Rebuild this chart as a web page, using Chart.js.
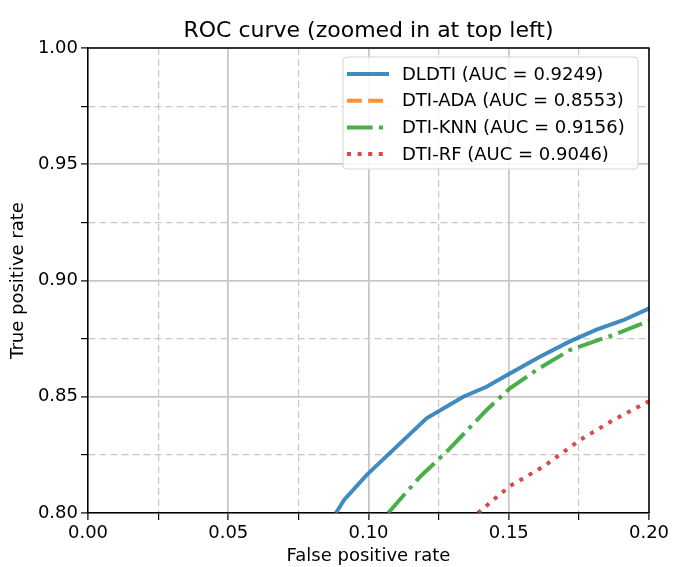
<!DOCTYPE html>
<html>
<head>
<meta charset="utf-8">
<script src="https://cdn.jsdelivr.net/npm/chart.js@4/dist/chart.umd.min.js"></script>
<style>
  html, body { margin: 0; padding: 0; background: #fff; }
  #roc { display: block; }
</style>
</head>
<body>
<canvas id="roc" width="673" height="567"></canvas>
<script>
// values
var titleText = 'ROC curve (zoomed in at top left)';
var xTitle = 'False positive rate';
var yTitle = 'True positive rate';

var xMin = 0.0, xMax = 0.2;
var yMin = 0.8, yMax = 1.0;
var tickStep = 0.025;   // minor step, labels only every 0.05

var labels = [
    'DLDTI (AUC = 0.9249)',
    'DTI-ADA (AUC = 0.8553)',
    'DTI-KNN (AUC = 0.9156)',
    'DTI-RF (AUC = 0.9046)'
];

var dldtiFpr = [0.0884, 0.0913, 0.0993, 0.1207, 0.1338, 0.1421, 0.1504, 0.1611, 0.1718, 0.1813, 0.1908, 0.1991, 0.2005];
var dldtiTpr = [0.8000, 0.8056, 0.8163, 0.8407, 0.8500, 0.8543, 0.8600, 0.8672, 0.8738, 0.8789, 0.8829, 0.8875, 0.8882];

// ADA curve stays below 0.80 in this window
var adaFpr = [0.100, 0.150, 0.200];
var adaTpr = [0.700, 0.740, 0.780];

var knnFpr = [0.1070, 0.1184, 0.1279, 0.1421, 0.1504, 0.1599, 0.1718, 0.1873, 0.1991, 0.2005];
var knnTpr = [0.8000, 0.8156, 0.8264, 0.8443, 0.8536, 0.8615, 0.8701, 0.8766, 0.8822, 0.8828];

var rfFpr = [0.1390, 0.1504, 0.1623, 0.1754, 0.1873, 0.1991, 0.2005];
var rfTpr = [0.8000, 0.8116, 0.8199, 0.8314, 0.8400, 0.8475, 0.8483];

function toPoints(xs, ys) {
    var pts = [];
    for (var i = 0; i < xs.length; i++) {
        pts.push({x: xs[i], y: ys[i]});
    }
    return pts;
}

var font = 'DejaVu Sans';
Chart.defaults.font.family = font;
Chart.defaults.color = '#000';

function isMajor(v) {
    return Math.abs(Math.round(v * 1000) % 50) === 0;
}

// matplotlib-like legend inside the plot, top right
var insideLegend = {
    id: 'insideLegend',
    afterDatasetsDraw: function (chart) {
        var ctx = chart.ctx;
        var area = chart.chartArea;
        var w = 295, h = 112;
        var left = area.right - 11 - w;
        var top = area.top + 9;

        ctx.save();
        ctx.beginPath();
        ctx.roundRect(left, top, w, h, 4);
        ctx.fillStyle = 'rgba(255,255,255,0.85)';
        ctx.fill();
        ctx.strokeStyle = '#d4d4d4';
        ctx.lineWidth = 1;
        ctx.stroke();

        ctx.font = '18px "' + font + '"';
        ctx.textBaseline = 'middle';
        ctx.textAlign = 'left';
        chart.data.datasets.forEach(function (ds, i) {
            var y = top + 17 + i * 26.7;
            ctx.beginPath();
            ctx.setLineDash(ds.borderDash || []);
            ctx.lineCap = 'butt';
            ctx.lineWidth = ds.borderWidth;
            ctx.strokeStyle = ds.borderColor;
            ctx.moveTo(left + 4, y);
            ctx.lineTo(left + 46, y);
            ctx.stroke();
            ctx.setLineDash([]);
            ctx.fillStyle = '#000';
            ctx.fillText(ds.label, left + 59, y + 1);
        });

        // top and right spines
        ctx.beginPath();
        ctx.strokeStyle = '#000';
        ctx.lineWidth = 1.5;
        ctx.moveTo(area.left, area.top);
        ctx.lineTo(area.right, area.top);
        ctx.lineTo(area.right, area.bottom);
        ctx.stroke();
        ctx.restore();
    }
};

function line(label, xs, ys, color, dash) {
    return {
        label: label,
        data: toPoints(xs, ys),
        showLine: true,
        borderColor: color,
        backgroundColor: color,
        borderWidth: 4,
        borderDash: dash,
        borderCapStyle: 'butt',
        pointRadius: 0,
        tension: 0,
        clip: 0
    };
}

function axis(min, max, titleText, titlePad, afterFit) {
    return {
        type: 'linear',
        min: min,
        max: max,
        afterFit: afterFit,
        ticks: {
            stepSize: tickStep,
            autoSkip: false,
            padding: 3,
            font: {size: 18},
            callback: function (value) {
                return isMajor(value) ? value.toFixed(2) : '';
            }
        },
        grid: {
            color: '#c8c8c8',
            lineWidth: function (c) {
                return isMajor(c.tick.value) ? 1.8 : 1.2;
            },
            tickColor: '#000',
            tickLength: 7,
            tickWidth: 1.2
        },
        border: {
            color: '#000',
            width: 1.5,
            dash: function (c) {
                return (c.tick && !isMajor(c.tick.value)) ? [7, 4] : [];
            }
        },
        title: {
            display: true,
            text: titleText,
            font: {size: 18},
            padding: titlePad
        }
    };
}

var chart = new Chart(document.getElementById('roc'), {
    type: 'scatter',
    data: {
        datasets: [
            line(labels[0], dldtiFpr, dldtiTpr, 'rgba(31,119,180,0.85)', []),
            line(labels[1], adaFpr, adaTpr, 'rgba(255,127,14,0.85)', [14.8, 6.4]),
            line(labels[2], knnFpr, knnTpr, 'rgba(44,160,44,0.85)', [25.6, 6.4, 4, 6.4]),
            line(labels[3], rfFpr, rfTpr, 'rgba(214,39,40,0.85)', [4, 6.6])
        ]
    },
    options: {
        responsive: false,
        animation: false,
        layout: {
            padding: {left: 0, right: 24, top: 0, bottom: 0}
        },
        scales: {
            x: axis(xMin, xMax, xTitle, {top: 0, bottom: 0}, function (s) { s.height = 54; }),
            y: axis(yMin, yMax, yTitle, {top: 8, bottom: 0}, function (s) { s.width = 88; })
        },
        plugins: {
            legend: {display: false},
            tooltip: {enabled: false},
            title: {
                display: true,
                fullSize: false,
                text: titleText,
                font: {size: 22, weight: 'normal'},
                color: '#000',
                padding: {top: 18, bottom: 3.6}
            }
        }
    },
    plugins: [insideLegend]
});
</script>
</body>
</html>
